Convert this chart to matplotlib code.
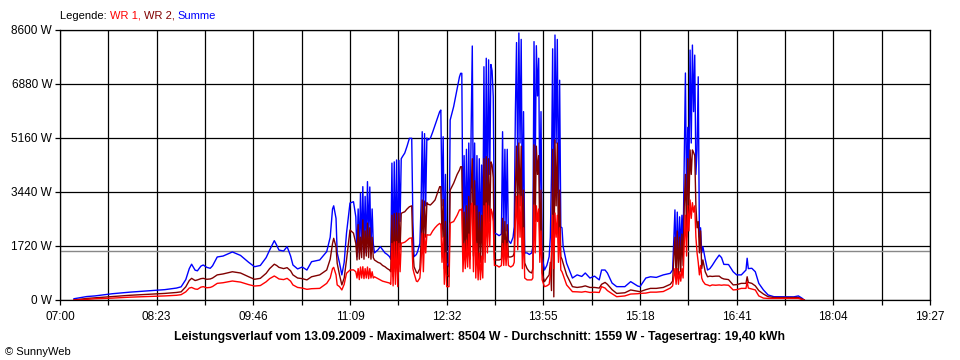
import matplotlib
matplotlib.use("Agg")
import matplotlib.pyplot as plt

# minutes after 07:00 and power in W
minutes = [
    12, 23, 30, 45, 60, 75, 90, 100, 104, 108,
    111, 113, 116, 118, 121, 123, 126, 129, 131, 135,
    140, 148, 155, 162, 167, 172, 177, 180, 184, 186,
    188, 192, 195, 198, 200, 204, 208, 212, 216, 223,
    229, 232, 234, 235, 237, 238, 240, 242, 244, 246,
    249, 252, 254, 255, 256, 257, 258, 259, 260, 261,
    262, 263, 264, 265, 266, 267, 268, 269, 270, 273,
    275, 277, 279, 281, 283, 284, 285, 286, 287, 288,
    289, 290, 291, 292, 293, 294, 296, 298, 300, 302,
    303, 304, 306, 307, 309, 310, 311, 312, 313, 314,
    315, 316, 318, 320, 322, 324, 326, 327, 328, 329,
    330, 331, 332, 334, 335, 338, 341, 343, 344, 345,
    346, 347, 348, 349, 350, 351, 352, 353, 354, 355,
    356, 357, 358, 359, 360, 361, 362, 363, 364, 365,
    366, 367, 368, 369, 370, 371, 372, 373, 375, 377,
    379, 380, 381, 382, 383, 384, 385, 387, 389, 390,
    391, 392, 393, 394, 395, 396, 397, 398, 399, 401,
    403, 405, 406, 407, 408, 409, 410, 411, 412, 413,
    414, 416, 418, 420, 421, 422, 423, 424, 425, 426,
    427, 428, 429, 430, 431, 432, 435, 440, 444, 448,
    451, 455, 459, 463, 465, 468, 470, 474, 478, 485,
    490, 496, 498, 503, 507, 512, 518, 524, 526, 528,
    529, 530, 531, 532, 533, 534, 535, 536, 537, 538,
    539, 540, 541, 542, 543, 544, 545, 546, 547, 548,
    549, 550, 551, 552, 554, 556, 558, 560, 563, 566,
    568, 570, 574, 578, 581, 585, 589, 590, 591, 594,
    597, 600, 604, 608, 613, 630, 634, 637, 639,
]

summe = [
    40, 110, 130, 200, 250, 290, 330, 380, 420, 650,
    1000, 1140, 950, 930, 1080, 1115, 1040, 1010, 1090, 1370,
    1400, 1530, 1420, 1200, 1060, 1100, 1350, 1590, 1890, 1750,
    1590, 1560, 1700, 1400, 1115, 990, 1050, 955, 1220, 1275,
    1540, 2000, 2900, 3000, 2600, 1500, 1180, 800, 1200, 2130,
    3090, 3130, 2650, 1380, 2900, 1500, 3400, 1600, 3610, 1700,
    3300, 1500, 3770, 2000, 3600, 1600, 2900, 1800, 1500, 1600,
    1700, 1600, 1500, 1450, 1380, 1300, 4360, 1250, 4400, 1500,
    4460, 1200, 4450, 2500, 4500, 4565, 4680, 4900, 5150, 5150,
    2500, 1380, 1450, 1540, 1800, 3000, 5360, 2400, 5300, 3000,
    5160, 5100, 5150, 5350, 5570, 5800, 6000, 6050, 3000, 5200,
    1400, 4000, 1180, 1060, 5730, 6160, 6740, 7110, 7220, 7220,
    2230, 4600, 1900, 4800, 2000, 5000, 1800, 5400, 8090, 2200,
    5000, 1900, 4600, 1700, 4500, 1800, 4300, 1900, 7430, 2500,
    7700, 3000, 7650, 4000, 7500, 7300, 6470, 2130, 2100, 2050,
    2100, 5360, 2000, 4800, 2200, 4800, 1900, 1800, 2000, 2330,
    6000, 8200, 4000, 8504, 5000, 8300, 2500, 6000, 1500, 1500,
    1450, 1500, 1700, 8230, 4000, 8100, 6500, 7700, 3000, 6000,
    1380, 955, 1100, 1380, 2000, 4000, 8000, 2500, 8440, 5000,
    8300, 3000, 7000, 2330, 2300, 1700, 1170, 700, 800, 750,
    860, 700, 760, 640, 955, 955, 860, 540, 425, 425,
    585, 445, 425, 700, 740, 720, 800, 850, 955, 2870,
    1100, 2800, 1300, 2650, 1600, 2700, 1700, 4360, 7230, 3000,
    5500, 4000, 7960, 5000, 8120, 6000, 7800, 4000, 4780, 7110,
    2000, 2300, 1500, 1700, 1300, 955, 1000, 1100, 1275, 1430,
    1350, 1135, 1130, 900, 800, 800, 955, 1330, 1000, 1010,
    900, 530, 320, 160, 105, 100, 130, 60, 0,
]

wr2 = [
    0, 50, 70, 110, 150, 180, 210, 240, 260, 420,
    620, 690, 620, 640, 680, 690, 660, 670, 700, 800,
    830, 900, 860, 740, 660, 690, 850, 1000, 1140, 1100,
    1040, 1000, 1030, 930, 800, 700, 680, 640, 740, 800,
    955, 1300, 1800, 1965, 1700, 1170, 800, 480, 700, 1275,
    2230, 2130, 1800, 1275, 2400, 1300, 2000, 1350, 2550, 1300,
    2200, 1400, 2450, 1350, 2300, 1300, 2000, 1350, 1275, 1200,
    1170, 1100, 1060, 1000, 955, 900, 2700, 750, 2750, 900,
    2770, 700, 2760, 1600, 2760, 2780, 2810, 2900, 2970, 3000,
    1600, 1060, 880, 850, 1000, 1800, 3185, 1500, 3150, 2000,
    3100, 3050, 3025, 3100, 3185, 3400, 3610, 3610, 2000, 3200,
    1000, 2500, 800, 740, 3500, 3720, 4000, 4140, 4245, 4245,
    1400, 2800, 1300, 3000, 1400, 3300, 1300, 3500, 4500, 1400,
    3800, 1200, 3000, 1100, 2800, 1200, 2700, 1300, 4500, 1800,
    4565, 2000, 4500, 2500, 4400, 4300, 3900, 1275, 1275, 1275,
    1300, 2600, 1300, 2500, 1300, 2400, 1370, 1370, 1400, 1500,
    3500, 4900, 2500, 5000, 3000, 4900, 1500, 3500, 1180, 1000,
    900, 860, 1000, 4940, 2500, 4900, 4000, 4600, 1800, 3500,
    860, 585, 700, 800, 1200, 300, 4800, 100, 5100, 3000,
    5000, 1800, 3500, 1380, 1300, 1170, 800, 425, 400, 420,
    450, 400, 400, 380, 500, 560, 500, 330, 210, 230,
    320, 280, 265, 330, 370, 370, 400, 500, 600, 2000,
    700, 2200, 800, 2000, 900, 2100, 1100, 3000, 4000, 2000,
    4500, 3000, 4780, 4000, 4780, 4700, 4600, 3000, 2300, 2500,
    1500, 2200, 1000, 1275, 900, 740, 760, 750, 760, 760,
    700, 670, 650, 480, 490, 530, 530, 740, 560, 530,
    450, 300, 190, 105, 80, 80, 80, 30, 0,
]

wr1 = [
    0, 20, 40, 60, 90, 110, 130, 150, 170, 260,
    380, 400, 350, 340, 410, 425, 390, 400, 430, 530,
    550, 605, 570, 490, 445, 460, 580, 680, 765, 720,
    670, 650, 690, 600, 480, 400, 380, 340, 360, 370,
    530, 700, 1000, 1040, 800, 480, 425, 320, 500, 850,
    955, 960, 900, 700, 1000, 650, 1050, 700, 1060, 680,
    1000, 700, 1050, 680, 1000, 700, 900, 700, 740, 680,
    640, 600, 580, 560, 540, 500, 1800, 450, 1850, 500,
    1860, 425, 1800, 900, 1815, 1815, 1840, 1900, 1965, 1980,
    1000, 850, 600, 585, 700, 1200, 2130, 900, 2100, 1500,
    2080, 2070, 2070, 2200, 2300, 2380, 2440, 2400, 1200, 2000,
    500, 1500, 425, 425, 2450, 2500, 2700, 2870, 2870, 2900,
    900, 1800, 1000, 1900, 1050, 2100, 1000, 3000, 3090, 900,
    3000, 700, 1800, 640, 1500, 650, 1400, 700, 3000, 1200,
    3090, 1500, 3000, 1700, 2900, 2800, 2500, 1100, 1100, 1050,
    1100, 1800, 1100, 1900, 1100, 1800, 1100, 1050, 1100, 1200,
    2500, 3300, 1600, 3340, 2000, 3300, 1000, 2300, 700, 640,
    640, 640, 700, 3025, 1500, 3000, 2500, 2900, 1200, 2200,
    640, 425, 450, 500, 800, 1500, 2700, 1000, 2770, 2000,
    2700, 1200, 2300, 955, 900, 800, 480, 265, 260, 250,
    270, 240, 250, 240, 425, 380, 300, 200, 105, 130,
    190, 200, 210, 220, 250, 250, 270, 380, 450, 1000,
    500, 1000, 500, 900, 600, 1000, 700, 1800, 2700, 1400,
    3000, 2200, 3185, 2600, 3100, 2800, 3000, 2000, 1500, 1200,
    800, 1100, 700, 600, 500, 480, 450, 480, 470, 480,
    470, 480, 470, 320, 330, 370, 370, 585, 380, 350,
    320, 130, 60, 50, 50, 50, 50, 20, 0,
]

durchschnitt = 1559
x_labels = ["07:00", "08:23", "09:46", "11:09", "12:32", "13:55", "15:18", "16:41", "18:04", "19:27"]
y_values = [0, 1720, 3440, 5160, 6880, 8600]

plt.rcParams["font.family"] = ["Liberation Sans", "DejaVu Sans"]

fig = plt.figure(figsize=(9.6, 3.6), dpi=100)
ax = fig.add_axes([60 / 960, 60 / 360, 870 / 960, 270 / 360])

ax.plot(minutes, summe, color="#0000ff", lw=1.0)
ax.plot(minutes, wr2, color="#800000", lw=1.0)
ax.plot(minutes, wr1, color="#ff0000", lw=1.0)
ax.axhline(durchschnitt, color="#888888", lw=1.0, zorder=1)

ax.set_xlim(0, 747)
ax.set_ylim(0, 8600)
step = 747 / (len(x_labels) - 1)
ax.set_xticks([i * step for i in range(len(x_labels))])
ax.set_xticklabels(x_labels)
ax.set_xticks([(i + 0.5) * step for i in range(len(x_labels) - 1)], minor=True)
ax.set_yticks(y_values)
ax.set_yticklabels([f"{v} W" for v in y_values])
ax.set_axisbelow(True)
ax.grid(True, which="both", color="black", lw=0.9)
ax.tick_params(which="both", length=3.6, width=0.9, direction="out", labelsize=8.5)
ax.tick_params(axis="x", pad=4)
ax.tick_params(axis="y", pad=2)
for s in ax.spines.values():
    s.set_linewidth(0.9)

# legend as coloured text pieces
t = fig.text(60 / 960, 1 - 16 / 360, "Legende: ", fontsize=8, va="center")
t = ax.annotate("WR 1, ", xy=(1, 0), xycoords=t, va="bottom", fontsize=8, color="#ff0000")
t = ax.annotate("WR 2, ", xy=(1, 0), xycoords=t, va="bottom", fontsize=8, color="#800000")
ax.annotate("Summe", xy=(1, 0), xycoords=t, va="bottom", fontsize=8, color="#0000ff")

fig.text(0.5, 1 - 337 / 360,
         "Leistungsverlauf vom 13.09.2009 - Maximalwert: 8504 W - Durchschnitt: 1559 W - Tagesertrag: 19,40 kWh",
         ha="center", va="center", fontsize=8.8, fontweight="bold")
fig.text(5 / 960, 1 - 352 / 360, "\u00a9 SunnyWeb", fontsize=8, va="center")

fig.savefig("out.png", dpi=100)
